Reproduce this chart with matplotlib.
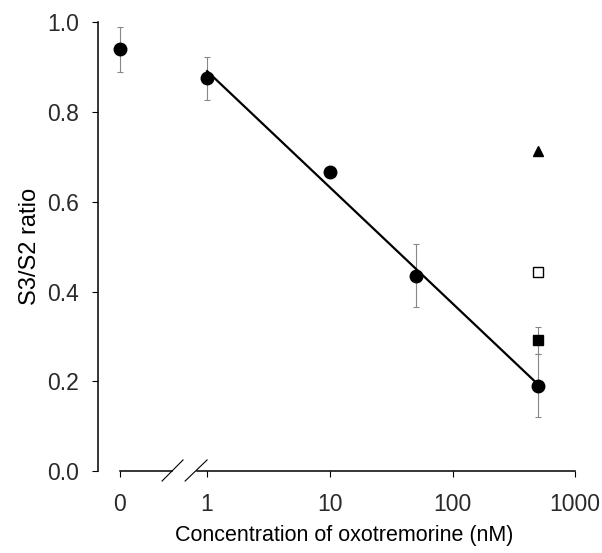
import numpy as np
import matplotlib.pyplot as plt

plt.rcParams['font.family'] = ['Liberation Sans', 'DejaVu Sans']

# ===== Data =====
conc = [0, 1, 10, 50, 500]              # oxotremorine, nM
ratio = [0.94, 0.875, 0.667, 0.435, 0.19]
ratio_err = [0.05, 0.048, 0.01, 0.07, 0.07]

# extra points at 500 nM
conc_extra = 500
tri_y = 0.712
open_sq_y = 0.444
fill_sq_y = 0.291
fill_sq_err = 0.03

xtick_conc = [0, 1, 10, 100, 1000]
xtick_labels = ['0', '1', '10', '100', '1000']

ZERO_POS = -0.71   # where the "0" control sits left of the break


def xpos(c):
    c = np.asarray(c, dtype=float)
    return np.where(c > 0, np.log10(np.where(c > 0, c, 1)), ZERO_POS)


# ===== Figure =====
fig = plt.figure(figsize=(6.02, 5.53), dpi=100)
ax = fig.add_axes([0.163, 0.148, 0.817, 0.812])

xp = xpos(conc)
ax.errorbar(xp, ratio, yerr=ratio_err, fmt='none', ecolor='#888888',
            elinewidth=0.8, capsize=2.5, capthick=0.8, zorder=2, clip_on=False)
ax.plot(xp, ratio, 'o', color='black', ms=9, zorder=4, clip_on=False)

# regression through the log-scaled points (1..500 nM)
fit_x = xp[1:]
slope, intercept = np.polyfit(fit_x, ratio[1:], 1)
lx = np.array([fit_x.min(), fit_x.max()])
ax.plot(lx, intercept + slope * lx, color='black', lw=1.6, zorder=3)

xe = float(xpos(conc_extra))
ax.plot(xe, tri_y, '^', color='black', ms=7.5, zorder=4)
ax.plot(xe, open_sq_y, 's', mfc='white', mec='black', mew=1.0, ms=7, zorder=4)
ax.errorbar(xe, fill_sq_y, yerr=fill_sq_err, fmt='s', color='black', ms=7,
            ecolor='#888888', elinewidth=0.8, capsize=2.5, capthick=0.8, zorder=4)

# ===== Axes styling =====
ax.set_xlim(-0.888, 3.12)
ax.set_ylim(0, 1.0)
for s in ['top', 'right', 'bottom']:
    ax.spines[s].set_visible(False)
ax.spines['left'].set_linewidth(1.1)

ax.set_yticks([0.0, 0.2, 0.4, 0.6, 0.8, 1.0])
ax.set_yticklabels(['0.0', '0.2', '0.4', '0.6', '0.8', '1.0'])
ax.set_xticks(xpos(xtick_conc))
ax.set_xticklabels(xtick_labels)
ax.tick_params(axis='both', labelsize=16.5, length=4, width=0.8,
               direction='out', colors='black', labelcolor='#2a2a2a')
ax.tick_params(axis='x', pad=12)
ax.tick_params(axis='y', pad=10)

# broken x axis line drawn at y = 0
kw = dict(color='black', lw=1.1, clip_on=False, zorder=5)
ax.plot([ZERO_POS, -0.285], [0, 0], **kw)
ax.plot([-0.08, 3.0], [0, 0], **kw)
ax.plot([-0.367, -0.196], [-0.022, 0.025], color='black', lw=0.8, clip_on=False)
ax.plot([-0.179, 0.0], [-0.022, 0.025], color='black', lw=0.8, clip_on=False)

ax.set_xlabel('Concentration of oxotremorine (nM)', fontsize=15.5, labelpad=6)
ax.set_ylabel('S3/S2 ratio', fontsize=17, labelpad=4)

plt.savefig('out.png', dpi=100)
